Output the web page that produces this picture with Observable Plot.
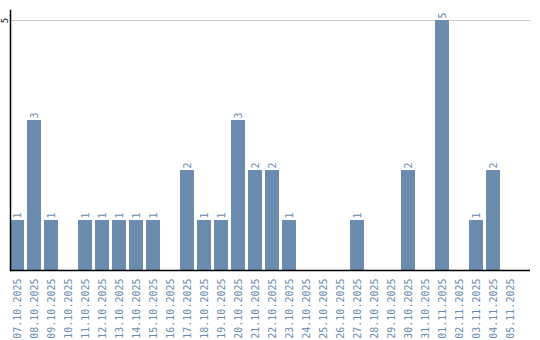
<!DOCTYPE html>
<html>
<head>
<meta charset="utf-8">
<script src="https://cdn.jsdelivr.net/npm/d3@7"></script>
<script src="https://cdn.jsdelivr.net/npm/@observablehq/plot@0.6"></script>
<style>
  html, body { margin: 0; padding: 0; background: #fff; }
  svg text { -webkit-font-smoothing: none; }
</style>
</head>
<body>
<div id="chart"></div>
<script>
const dates = ["07.10.2025","08.10.2025","09.10.2025","10.10.2025","11.10.2025","12.10.2025","13.10.2025","14.10.2025","15.10.2025","16.10.2025","17.10.2025","18.10.2025","19.10.2025","20.10.2025","21.10.2025","22.10.2025","23.10.2025","24.10.2025","25.10.2025","26.10.2025","27.10.2025","28.10.2025","29.10.2025","30.10.2025","31.10.2025","01.11.2025","02.11.2025","03.11.2025","04.11.2025","05.11.2025"];
const counts = [1,3,1,0,1,1,1,1,1,0,2,1,1,3,2,2,1,0,0,0,1,0,0,2,0,5,0,1,2,0];
const yTicks = [5];

const data = dates.map((d, i) => ({date: d, count: counts[i]}));
const barColor = "#6b8cae";
const font = "'DejaVu Sans Mono', monospace";

const chart = Plot.plot({
  width: 540,
  height: 340,
  marginLeft: 10,
  marginRight: 10,
  marginTop: 10,
  marginBottom: 70,
  style: {fontFamily: font, fontSize: "10px", background: "#fff"},
  x: {domain: dates, paddingInner: 0.176, paddingOuter: 0.382, align: 0, label: null},
  y: {domain: [0, 5.2], label: null},
  marks: [
    Plot.ruleY(yTicks, {stroke: "#cccccc", strokeWidth: 1}),
    Plot.barY(data, {x: "date", y: "count", fill: barColor}),
    Plot.text(data.filter(d => d.count > 0), {
      x: "date", y: "count", text: d => String(d.count),
      rotate: -90, textAnchor: "start", lineAnchor: "middle",
      dy: -2, fill: barColor, fontSize: 10, fontFamily: font
    }),
    Plot.axisX({
      tickRotate: -90, tickSize: 0, tickPadding: 8, color: barColor,
      fill: barColor, fontSize: 10, fontFamily: font, label: null
    }),
    Plot.axisY({
      ticks: yTicks, tickFormat: d => String(d), tickSize: 0, tickRotate: -90, tickPadding: 3,
      fill: "#000", fontSize: 9, fontFamily: font, label: null, textAnchor: "middle"
    }),
    Plot.frame({anchor: "left", stroke: "#000", strokeWidth: 1.5}),
    Plot.ruleY([0], {stroke: "#000", strokeWidth: 1.5})
  ]
});
document.getElementById("chart").appendChild(chart);
</script>
</body>
</html>
